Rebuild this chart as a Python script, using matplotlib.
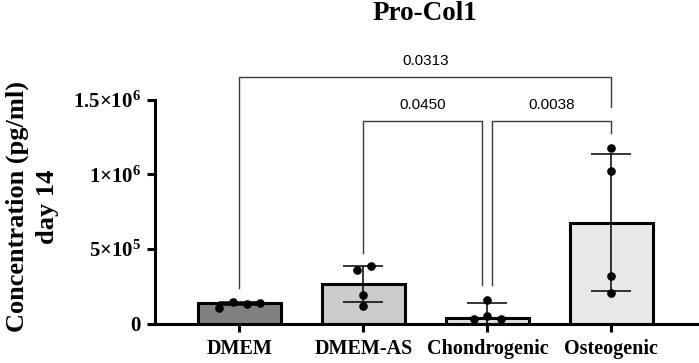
import numpy as np
import matplotlib.pyplot as plt

groups = ["DMEM", "DMEM-AS", "Chondrogenic", "Osteogenic"]
means = [0.135e6, 0.265e6, 0.037e6, 0.675e6]
sds = [0.012e6, 0.12e6, 0.099e6, 0.46e6]
bar_colors = ["#808080", "#cbcbcb", "#e2e2e2", "#e8e8e8"]

# individual replicates (value, jitter offset)
points = [
    [0.106e6, 0.146e6, 0.131e6, 0.140e6],
    [0.359e6, 0.386e6, 0.190e6, 0.117e6],
    [0.158e6, 0.050e6, 0.030e6, 0.030e6],
    [1.180e6, 1.020e6, 0.319e6, 0.203e6],
]
jitter = [
    [-0.16, -0.05, 0.06, 0.17],
    [-0.05, 0.065, 0.0, 0.0],
    [0.0, 0.0, -0.11, 0.11],
    [0.0, 0.0, 0.0, 0.0],
]

# comparisons: x1, x2, bar height, left leg end, right leg end, p-value
comparisons = [
    (0, 3, 1.654e6, 0.238e6, 1.453e6, "0.0313"),
    (1, 1.96, 1.359e6, 0.475e6, 0.258e6, "0.0450"),
    (2.04, 3, 1.359e6, 0.258e6, 1.279e6, "0.0038"),
]

yticks = [0, 0.5e6, 1e6, 1.5e6]
ytick_labels = ["0", r"$\mathbf{5{\times}10^5}$", r"$\mathbf{1{\times}10^6}$", r"$\mathbf{1.5{\times}10^6}$"]

plt.rcParams['mathtext.fontset'] = 'custom'
plt.rcParams['mathtext.rm'] = 'Liberation Serif:bold'
plt.rcParams['mathtext.bf'] = 'Liberation Serif:bold'
plt.rcParams['mathtext.it'] = 'Liberation Serif:bold'

serif = "Liberation Serif"

fig = plt.figure(figsize=(6.99, 3.63), dpi=100)
ax = fig.add_axes([0.2217, 0.1088, 0.7754, 0.6983])

x = np.arange(len(groups))
ax.bar(x, means, width=0.67, color=bar_colors, edgecolor="black", linewidth=2.2, zorder=2)
ax.errorbar(x, means, yerr=sds, fmt="none", ecolor="black", elinewidth=1.1,
            capsize=14.5, capthick=1.1, zorder=3)
for i in range(len(groups)):
    ax.plot(x[i] + np.array(jitter[i]), points[i], "o", color="black",
            markersize=5.2, zorder=4, clip_on=False)

for x1, x2, h, l1, l2, p in comparisons:
    ax.plot([x1, x1, x2, x2], [l1, h, h, l2], color="#3a3a3a", linewidth=1.0,
            clip_on=False, zorder=1)
    ax.annotate(p, xy=((x1 + x2) / 2, h), xytext=(0, 11.5), textcoords="offset points",
                ha="center", va="center", fontsize=11, family="Liberation Sans",
                annotation_clip=False)

ax.set_xlim(-0.68, 3.69)
ax.set_ylim(0, 1.7e6)
ax.set_xticks(x)
ax.set_xticklabels(groups, fontsize=14.5, fontweight="bold", family=serif)
ax.set_yticks(yticks)
ax.set_yticklabels(ytick_labels, fontsize=15, fontweight="bold", family=serif)
ax.tick_params(axis="both", width=2.2, length=6, direction="out")
ax.tick_params(axis="x", pad=5)
ax.tick_params(axis="y", pad=4)
for s in ["top", "right"]:
    ax.spines[s].set_visible(False)
for s in ["left", "bottom"]:
    ax.spines[s].set_linewidth(2.2)
ax.spines["left"].set_bounds(0, 1.5e6)

fig.text(425 / 699, 1 - 14 / 363, "Pro-Col1", ha="center", va="center", fontsize=19.5,
         fontweight="bold", family=serif)
fig.text(32 / 699, 1 - 207 / 363, "Concentration (pg/ml)\nday 14", rotation=90,
         ha="center", va="center", multialignment="center", fontsize=19,
         fontweight="bold", family=serif, linespacing=1.4)

fig.savefig("out.png", dpi=100)
